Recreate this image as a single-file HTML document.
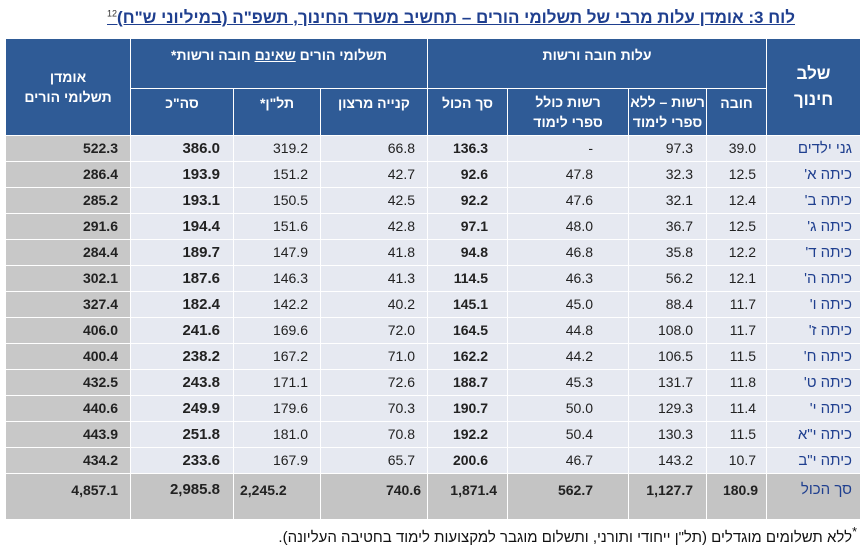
<!DOCTYPE html>
<html><head><meta charset="utf-8"><style>
body{margin:0;width:865px;height:551px;background:#fff;position:relative;overflow:hidden;font-family:"Liberation Sans","Noto Sans CJK JP",sans-serif;}
.title{position:absolute;left:0;width:795px;top:8px;text-align:right;color:#1f3f8f;font-weight:bold;font-size:17px;text-decoration:underline;direction:rtl;}
.title sup{font-size:9px;font-weight:normal;color:#333}
table{position:absolute;left:5px;top:38px;border-collapse:collapse;table-layout:fixed;width:855px;}
td{border:1px solid #fff;padding:0;font-size:14px;color:#222;text-align:right;height:25px;line-height:25px;background:#e6e9f1;white-space:nowrap;overflow:hidden;box-sizing:border-box}
th{background:#2f5b96;color:#fff;font-size:14px;font-weight:bold;border:1px solid #fff;direction:rtl;line-height:20px;white-space:nowrap;padding:0;overflow:hidden}
.g{background:#c8c8c8}
.b{font-weight:bold}
.bb{font-weight:bold;font-size:15px}
.lab{direction:rtl;text-align:right;color:#1f3f8f;font-size:15px;padding-right:8px}
tr.tot td{background:#c4c4c4;height:46px;line-height:24px;vertical-align:top;font-weight:bold}
.foot{position:absolute;right:8px;top:525px;font-size:15px;direction:rtl;color:#111}
</style></head><body>
<div class="title">לוח 3: אומדן עלות מרבי של תשלומי הורים – תחשיב משרד החינוך, תשפ"ה (במיליוני ש"ח)<sup>12</sup></div>
<table>
<colgroup><col style="width:125px"><col style="width:103px"><col style="width:87px"><col style="width:107px"><col style="width:80px"><col style="width:121px"><col style="width:78px"><col style="width:60px"><col style="width:94px"></colgroup>
<tr style="height:50px"><th rowspan="2">אומדן<br>תשלומי הורים</th><th colspan="3" style="vertical-align:top;padding-top:6px">תשלומי הורים <u>שאינם</u> חובה ורשות*</th><th colspan="4" style="vertical-align:top;padding-top:6px">עלות חובה ורשות</th><th rowspan="2" style="font-size:17px;line-height:26px">שלב<br>חינוך</th></tr>
<tr style="height:47px"><th style="vertical-align:top;padding-top:4px">סה"כ</th><th style="vertical-align:top;padding-top:4px">תל"ן*</th><th style="vertical-align:top;padding-top:4px">קנייה מרצון</th><th style="vertical-align:top;padding-top:4px">סך הכול</th><th>רשות כולל<br>ספרי לימוד</th><th>רשות – ללא<br>ספרי לימוד</th><th style="vertical-align:top;padding-top:4px">חובה</th></tr>
<tr><td class="g b" style="padding-right:12px">522.3</td><td class="bb" style="padding-right:13px">386.0</td><td style="padding-right:12px">319.2</td><td style="padding-right:12px">66.8</td><td class="b" style="padding-right:19px">136.3</td><td style="padding-right:35px">-</td><td style="padding-right:13px">97.3</td><td style="padding-right:10px">39.0</td><td class="lab">גני ילדים</td></tr>
<tr><td class="g b" style="padding-right:12px">286.4</td><td class="bb" style="padding-right:13px">193.9</td><td style="padding-right:12px">151.2</td><td style="padding-right:12px">42.7</td><td class="b" style="padding-right:19px">92.6</td><td style="padding-right:35px">47.8</td><td style="padding-right:13px">32.3</td><td style="padding-right:10px">12.5</td><td class="lab">כיתה א'</td></tr>
<tr><td class="g b" style="padding-right:12px">285.2</td><td class="bb" style="padding-right:13px">193.1</td><td style="padding-right:12px">150.5</td><td style="padding-right:12px">42.5</td><td class="b" style="padding-right:19px">92.2</td><td style="padding-right:35px">47.6</td><td style="padding-right:13px">32.1</td><td style="padding-right:10px">12.4</td><td class="lab">כיתה ב'</td></tr>
<tr><td class="g b" style="padding-right:12px">291.6</td><td class="bb" style="padding-right:13px">194.4</td><td style="padding-right:12px">151.6</td><td style="padding-right:12px">42.8</td><td class="b" style="padding-right:19px">97.1</td><td style="padding-right:35px">48.0</td><td style="padding-right:13px">36.7</td><td style="padding-right:10px">12.5</td><td class="lab">כיתה ג'</td></tr>
<tr><td class="g b" style="padding-right:12px">284.4</td><td class="bb" style="padding-right:13px">189.7</td><td style="padding-right:12px">147.9</td><td style="padding-right:12px">41.8</td><td class="b" style="padding-right:19px">94.8</td><td style="padding-right:35px">46.8</td><td style="padding-right:13px">35.8</td><td style="padding-right:10px">12.2</td><td class="lab">כיתה ד'</td></tr>
<tr><td class="g b" style="padding-right:12px">302.1</td><td class="bb" style="padding-right:13px">187.6</td><td style="padding-right:12px">146.3</td><td style="padding-right:12px">41.3</td><td class="b" style="padding-right:19px">114.5</td><td style="padding-right:35px">46.3</td><td style="padding-right:13px">56.2</td><td style="padding-right:10px">12.1</td><td class="lab">כיתה ה'</td></tr>
<tr><td class="g b" style="padding-right:12px">327.4</td><td class="bb" style="padding-right:13px">182.4</td><td style="padding-right:12px">142.2</td><td style="padding-right:12px">40.2</td><td class="b" style="padding-right:19px">145.1</td><td style="padding-right:35px">45.0</td><td style="padding-right:13px">88.4</td><td style="padding-right:10px">11.7</td><td class="lab">כיתה ו'</td></tr>
<tr><td class="g b" style="padding-right:12px">406.0</td><td class="bb" style="padding-right:13px">241.6</td><td style="padding-right:12px">169.6</td><td style="padding-right:12px">72.0</td><td class="b" style="padding-right:19px">164.5</td><td style="padding-right:35px">44.8</td><td style="padding-right:13px">108.0</td><td style="padding-right:10px">11.7</td><td class="lab">כיתה ז'</td></tr>
<tr><td class="g b" style="padding-right:12px">400.4</td><td class="bb" style="padding-right:13px">238.2</td><td style="padding-right:12px">167.2</td><td style="padding-right:12px">71.0</td><td class="b" style="padding-right:19px">162.2</td><td style="padding-right:35px">44.2</td><td style="padding-right:13px">106.5</td><td style="padding-right:10px">11.5</td><td class="lab">כיתה ח'</td></tr>
<tr><td class="g b" style="padding-right:12px">432.5</td><td class="bb" style="padding-right:13px">243.8</td><td style="padding-right:12px">171.1</td><td style="padding-right:12px">72.6</td><td class="b" style="padding-right:19px">188.7</td><td style="padding-right:35px">45.3</td><td style="padding-right:13px">131.7</td><td style="padding-right:10px">11.8</td><td class="lab">כיתה ט'</td></tr>
<tr><td class="g b" style="padding-right:12px">440.6</td><td class="bb" style="padding-right:13px">249.9</td><td style="padding-right:12px">179.6</td><td style="padding-right:12px">70.3</td><td class="b" style="padding-right:19px">190.7</td><td style="padding-right:35px">50.0</td><td style="padding-right:13px">129.3</td><td style="padding-right:10px">11.4</td><td class="lab">כיתה י'</td></tr>
<tr><td class="g b" style="padding-right:12px">443.9</td><td class="bb" style="padding-right:13px">251.8</td><td style="padding-right:12px">181.0</td><td style="padding-right:12px">70.8</td><td class="b" style="padding-right:19px">192.2</td><td style="padding-right:35px">50.4</td><td style="padding-right:13px">130.3</td><td style="padding-right:10px">11.5</td><td class="lab">כיתה י"א</td></tr>
<tr><td class="g b" style="padding-right:12px">434.2</td><td class="bb" style="padding-right:13px">233.6</td><td style="padding-right:12px">167.9</td><td style="padding-right:12px">65.7</td><td class="b" style="padding-right:19px">200.6</td><td style="padding-right:35px">46.7</td><td style="padding-right:13px">143.2</td><td style="padding-right:10px">10.7</td><td class="lab">כיתה י"ב</td></tr>
<tr class="tot"><td style="padding-right:12px;padding-top:4px">4,857.1</td><td style="padding-right:13px;padding-top:4px;font-size:15px">2,985.8</td><td style="text-align:left;padding-left:6px;padding-top:4px">2,245.2</td><td style="padding-right:6px;padding-top:4px">740.6</td><td style="padding-right:10px;padding-top:4px">1,871.4</td><td style="padding-right:35px;padding-top:4px">562.7</td><td style="padding-right:13px;padding-top:4px">1,127.7</td><td style="padding-right:8px;padding-top:4px">180.9</td><td class="lab" style="font-weight:normal;padding-top:4px">סך הכול</td></tr>
</table>
<div class="foot"><sup>*</sup>ללא תשלומים מוגדלים (תל"ן ייחודי ותורני, ותשלום מוגבר למקצועות לימוד בחטיבה העליונה).</div>
</body></html>
